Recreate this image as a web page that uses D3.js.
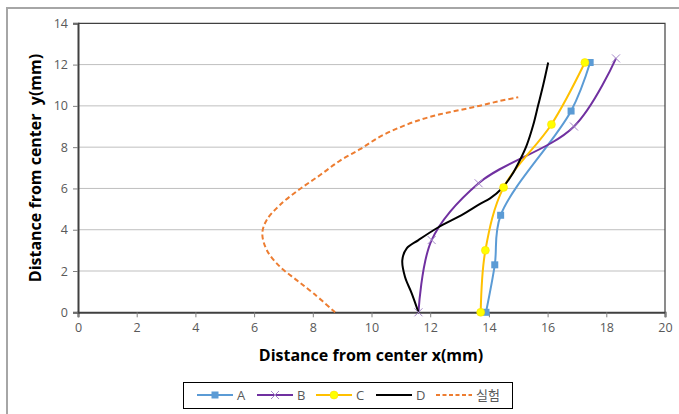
<!DOCTYPE html>
<html>
<head>
<meta charset="utf-8">
<script src="https://cdn.jsdelivr.net/npm/d3@7"></script>
<style>
  body { margin: 0; background: #fff; }
  svg { display: block; font-family: "Open Sans", "Noto Sans", sans-serif; }
</style>
</head>
<body>
<div id="chart"></div>
<script>
// chart values
var xTicks = [0, 2, 4, 6, 8, 10, 12, 14, 16, 18, 20];
var yTicks = [0, 2, 4, 6, 8, 10, 12, 14];
var seriesNames = ["A", "B", "C", "D", "실험"];

var seriesA = [[13.9, 0], [14.2, 2.3], [14.4, 4.7], [16.8, 9.75], [17.45, 12.1]];
var seriesB = [[11.6, 0], [12.05, 3.5], [13.65, 6.25], [16.9, 9.0], [18.33, 12.3]];
var seriesC = [[13.72, 0], [13.88, 3.0], [14.5, 6.05], [16.13, 9.1], [17.27, 12.1]];
var seriesD = [[11.6, 0], [11.37, 0.92], [11.14, 1.72], [11.05, 2.53], [11.2, 3.1],
               [11.6, 3.5], [12.28, 4.12], [13.07, 4.71], [13.7, 5.25], [14.04, 5.52],
               [14.44, 6.0], [14.78, 6.65], [15.06, 7.38], [15.29, 8.1], [15.51, 9.07],
               [15.68, 10.04], [15.85, 11.01], [16.02, 12.1]];
var seriesExp = [[8.76, 0], [8.02, 0.92], [7.45, 1.56], [6.88, 2.21], [6.43, 3.02],
                 [6.28, 3.83], [6.43, 4.47], [6.88, 5.2], [7.56, 5.97], [8.25, 6.65],
                 [8.93, 7.35], [9.61, 7.9], [10.29, 8.51], [10.97, 8.96], [11.65, 9.32],
                 [12.33, 9.59], [13.02, 9.8], [13.7, 10.01], [14.38, 10.24], [15.0, 10.42]];

(function() {
    'use strict';

    var width = 679, height = 414;
    var plot = { left: 78, right: 665, top: 23.3, bottom: 312.3 };

    var svg = d3.select("#chart").append("svg")
        .attr("width", width)
        .attr("height", height);

    // outer chart frame (right and bottom run off the picture)
    svg.append("rect")
        .attr("x", 7).attr("y", 8)
        .attr("width", 720).attr("height", 440)
        .style("fill", "none")
        .style("stroke", "#a6a6a6")
        .style("stroke-width", 2);

    var x = d3.scaleLinear().domain([0, 20]).range([plot.left, plot.right]);
    var y = d3.scaleLinear().domain([0, 14]).range([plot.bottom, plot.top]);

    // gridlines
    svg.append("g").selectAll("line")
        .data(yTicks.filter(function(t) { return t > 0 && t < 14; }))
        .enter().append("line")
        .attr("x1", x(0)).attr("x2", x(20))
        .attr("y1", function(d) { return y(d); })
        .attr("y2", function(d) { return y(d); })
        .style("stroke", "#bfbfbf")
        .style("stroke-width", 1);

    // plot frame top / right
    svg.append("path")
        .attr("d", "M" + x(0) + "," + y(14) + "H" + x(20) + "V" + y(0))
        .style("fill", "none")
        .style("stroke", "#404040")
        .style("stroke-width", 1.2);

    // axes
    var xAxis = d3.axisBottom(x).tickValues(xTicks).tickSize(5).tickPadding(6);
    var yAxis = d3.axisLeft(y).tickValues(yTicks).tickSize(5).tickPadding(5);

    var gx = svg.append("g").attr("transform", "translate(0," + y(0) + ")").call(xAxis);
    var gy = svg.append("g").attr("transform", "translate(" + x(0) + ",0)").call(yAxis);

    [gx, gy].forEach(function(g) {
        g.select(".domain").style("stroke", "#404040").style("stroke-width", 2);
        g.selectAll(".tick line").style("stroke", "#808080");
        g.selectAll(".tick text")
            .style("fill", "#595959")
            .style("font-size", "12.5px")
            .style("font-family", "'Open Sans', sans-serif");
    });

    // axis titles
    svg.append("text")
        .attr("x", 371).attr("y", 361)
        .attr("text-anchor", "middle")
        .style("font-size", "16px")
        .style("font-weight", "bold")
        .style("fill", "#000")
        .text("Distance from center x(mm)");

    svg.append("text")
        .attr("transform", "translate(41,168) rotate(-90)")
        .attr("text-anchor", "middle")
        .style("font-size", "16px")
        .style("font-weight", "bold")
        .style("fill", "#000")
        .style("white-space", "pre")
        .text("Distance from center  y(mm)");

    // series, drawn smoothed like the spreadsheet did
    var line = d3.line()
        .x(function(d) { return x(d[0]); })
        .y(function(d) { return y(d[1]); })
        .curve(d3.curveCatmullRom.alpha(0.5));

    var styles = [
        { data: seriesA, color: "#5b9bd5", marker: "square" },
        { data: seriesB, color: "#7030a0", marker: "cross" },
        { data: seriesC, color: "#ffc000", marker: "circle" },
        { data: seriesD, color: "#000000", marker: null },
        { data: seriesExp, color: "#ed7d31", marker: null, dash: "5,3" }
    ];

    var lines = svg.append("g");
    styles.forEach(function(s) {
        lines.append("path")
            .datum(s.data)
            .attr("d", line)
            .style("fill", "none")
            .style("stroke", s.color)
            .style("stroke-width", 2)
            .style("stroke-dasharray", s.dash || null);
    });

    function drawMarker(g, type, cx, cy) {
        if (type === "square") {
            g.append("rect")
                .attr("x", cx - 3.5).attr("y", cy - 3.5)
                .attr("width", 7).attr("height", 7)
                .style("fill", "#5b9bd5");
        } else if (type === "cross") {
            g.append("path")
                .attr("d", "M" + (cx - 4) + "," + (cy - 4) + "L" + (cx + 4) + "," + (cy + 4) +
                           "M" + (cx - 4) + "," + (cy + 4) + "L" + (cx + 4) + "," + (cy - 4))
                .style("stroke", "#a487c8")
                .style("stroke-width", 1);
        } else if (type === "circle") {
            g.append("circle")
                .attr("cx", cx).attr("cy", cy).attr("r", 4)
                .style("fill", "#ffff00")
                .style("stroke", "#ffd700")
                .style("stroke-width", 0.5);
        }
    }

    var markers = svg.append("g");
    styles.forEach(function(s) {
        if (!s.marker) return;
        s.data.forEach(function(d) {
            drawMarker(markers, s.marker, x(d[0]), y(d[1]));
        });
    });

    // legend
    var legend = svg.append("g");
    legend.append("rect")
        .attr("x", 183.5).attr("y", 382.5)
        .attr("width", 329).attr("height", 26)
        .style("fill", "#fff")
        .style("stroke", "#000")
        .style("stroke-width", 1);

    var legendX = d3.scaleLinear().domain([0, 1]).range([197, 257]);
    seriesNames.forEach(function(name, i) {
        var s = styles[i];
        var lx = legendX(i) - (i >= 2 ? 1 : 0);
        var ly = 395;
        legend.append("line")
            .attr("x1", lx).attr("x2", lx + 36)
            .attr("y1", ly).attr("y2", ly)
            .style("stroke", s.color)
            .style("stroke-width", 2)
            .style("stroke-dasharray", s.dash ? "4,2.5" : null);
        if (s.marker) drawMarker(legend, s.marker, lx + 18, ly);
        legend.append("text")
            .attr("x", lx + 40).attr("y", ly + 4.5)
            .style("font-size", "13px")
            .style("fill", "#595959")
            .style("font-family", i === 4 ? "'Noto Sans CJK KR', sans-serif" : "'Open Sans', sans-serif")
            .text(name);
    });
})();
</script>
</body>
</html>
